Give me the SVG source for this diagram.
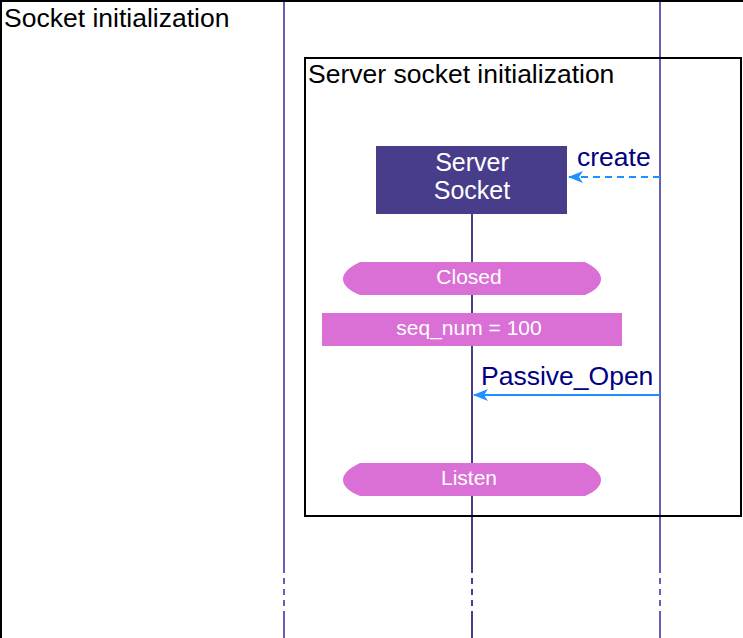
<svg xmlns="http://www.w3.org/2000/svg" width="743" height="638" viewBox="0 0 743 638">
  <style>
    .frame { fill: none; stroke: #000; stroke-width: 2; }
    .title { font-family: "Liberation Sans", Arial, sans-serif; font-size: 26.5px; fill: #000; }
    .life { stroke-width: 2; fill: none; }
    .life-main { stroke: #483d8b; }
    .life-side { stroke: #6a5fb0; }
    .gap { stroke-dasharray: 6 5; }
    .state { fill: #da70d6; }
    .stext { font-family: "Liberation Sans", Arial, sans-serif; fill: #fff; text-anchor: middle; }
    .msg { stroke: #1e90ff; stroke-width: 2; fill: none; }
    .mlabel { font-family: "Liberation Sans", Arial, sans-serif; font-size: 26.5px; fill: #000080; }
  </style>
  <defs>
    <marker id="arrow" viewBox="0 0 15 12" refX="14" refY="6" markerWidth="15" markerHeight="12" markerUnits="userSpaceOnUse" orient="auto">
      <path d="M15,6 L0,0 L4,6 L0,12 Z" fill="#1e90ff"/>
    </marker>
  </defs>
  <rect width="743" height="638" fill="#fff"/>

  <!-- lifelines -->
  <g id="lifelines">
    <path class="life life-side" d="M284,0 V567 M284,617 V638"/>
    <path class="life life-side gap" d="M284,567 V617"/>
    <path class="life life-main" d="M472,214 V567 M472,617 V638"/>
    <path class="life life-main gap" d="M472,567 V617"/>
    <path class="life life-side" d="M660,0 V567 M660,617 V638"/>
    <path class="life life-side gap" d="M660,567 V617"/>
  </g>

  <!-- outer frame -->
  <g id="socket-init">
    <rect class="frame" x="1" y="1" width="760" height="660"/>
    <text class="title" x="4" y="27">Socket initialization</text>
  </g>

  <!-- inner frame -->
  <g id="server-socket-init">
    <rect class="frame" x="305" y="58" width="436" height="458"/>
    <text class="title" x="308" y="83">Server socket initialization</text>
  </g>

  <g id="server-socket">
    <rect x="376" y="146" width="191" height="68" fill="#483d8b"/>
    <text class="stext" x="472" y="171" font-size="25">Server</text>
    <text class="stext" x="472" y="199" font-size="25">Socket</text>
  </g>

  <g id="state-closed">
    <path class="state" d="M360,262 L585,262 Q601,270 601,279 Q601,288 585,295 L360,295 Q343,288 343,279 Q343,270 360,262 Z"/>
    <text class="stext" x="469" y="284" font-size="21">Closed</text>
  </g>

  <g id="action-seq">
    <rect class="state" x="322" y="313" width="300" height="33"/>
    <text class="stext" x="469" y="335" font-size="21">seq_num = 100</text>
  </g>

  <g id="state-listen">
    <path class="state" d="M360,463 L585,463 Q601,471 601,480 Q601,489 585,496 L360,496 Q343,489 343,480 Q343,471 360,463 Z"/>
    <text class="stext" x="469" y="485" font-size="21">Listen</text>
  </g>

  <!-- messages -->
  <g id="connectors">
    <line class="msg" x1="660" y1="177" x2="569" y2="177" stroke-dasharray="7 5" marker-end="url(#arrow)"/>
    <text class="mlabel" x="577" y="166">create</text>
    <line class="msg" x1="660" y1="395" x2="474" y2="395" marker-end="url(#arrow)"/>
    <text class="mlabel" x="481" y="385">Passive_Open</text>
  </g>
</svg>
